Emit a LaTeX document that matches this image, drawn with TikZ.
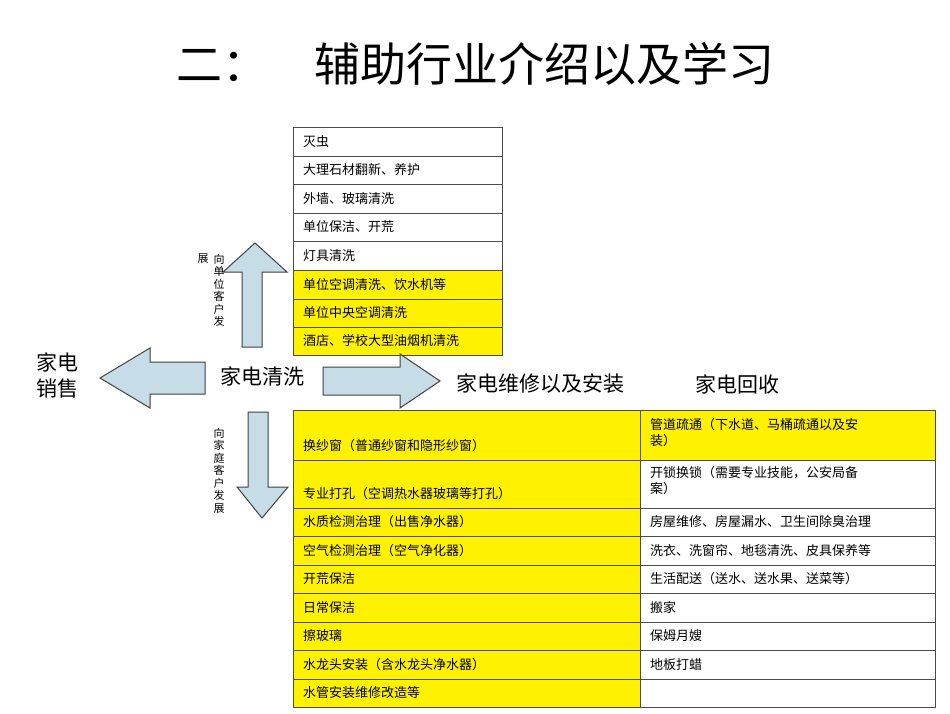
\documentclass[tikz,border=0pt]{standalone}
\usepackage{fontspec}
\newfontfamily\cjk{Noto Sans CJK SC}
\begin{document}
\begin{tikzpicture}[x=1pt,y=-1pt,
  cell/.style={draw=black!70,line width=0.5pt},
  ylw/.style={cell,fill=yellow},
  txt/.style={anchor=west,inner sep=0,font=\cjk\fontsize{13}{16}\selectfont},
  arr/.style={draw=black!75,fill=cyan!20!teal!25,line width=1pt},
  big/.style={inner sep=0,font=\cjk\fontsize{21}{26}\selectfont}]
\useasboundingbox (0,0) rectangle (950,713);
\node[inner sep=0,font=\cjk\fontsize{46}{50}\selectfont] (title) at (475,64) {二：\quad 辅助行业介绍以及学习};
% top table
\foreach \a/\b/\t [count=\i] in {127/156/灭虫,156/184/大理石材翻新、养护,184/213/外墙、玻璃清洗,213/241/单位保洁、开荒,241/270/灯具清洗}
  {\draw[cell] (293,\a) rectangle (502,\b); \node[txt] (t\i) at (303,{(\a+\b)/2}) {\t};}
\foreach \a/\b/\t [count=\i from 6] in {270/299/单位空调清洗、饮水机等,299/327/单位中央空调清洗,327/355/酒店、学校大型油烟机清洗}
  {\draw[ylw] (293,\a) rectangle (502,\b); \node[txt] (t\i) at (303,{(\a+\b)/2}) {\t};}
% bottom table
\foreach \a/\b/\l/\r [count=\i] in {
 410/460/换纱窗（普通纱窗和隐形纱窗）/{},
 460/508/专业打孔（空调热水器玻璃等打孔）/{},
 508/536/水质检测治理（出售净水器）/房屋维修、房屋漏水、卫生间除臭治理,
 536/565/空气检测治理（空气净化器）/洗衣、洗窗帘、地毯清洗、皮具保养等,
 565/593/开荒保洁/生活配送（送水、送水果、送菜等）,
 593/622/日常保洁/搬家,
 622/650/擦玻璃/保姆月嫂,
 650/679/水龙头安装（含水龙头净水器）/地板打蜡,
 679/707/水管安装维修改造等/{}}
 {\draw[ylw] (293,\a) rectangle (640,\b);
  \draw[cell] (640,\a) rectangle (935,\b);
  \node[txt] (l\i) at (303,{\b-14}) {\l};
  \node[txt] (r\i) at (650,{(\a+\b)/2}) {\r};}
\draw[ylw] (640,410) rectangle (935,460);
\node[txt,align=left,anchor=north west] (r1) at (650,418) {管道疏通（下水道、马桶疏通以及安\\装）};
\node[txt,align=left,anchor=north west] (r2) at (650,466) {开锁换锁（需要专业技能，公安局备\\案）};
% arrows
\draw[arr] (242,347) -- (242,272) -- (223,272) -- (255,243) -- (287,272) -- (262,272) -- (262,347) -- cycle;
\draw[arr] (248,412) -- (248,487) -- (237,487) -- (262,518) -- (288,487) -- (268,487) -- (268,412) -- cycle;
\draw[arr] (205,362) -- (150,362) -- (150,348) -- (100,378) -- (150,408) -- (150,394) -- (205,394) -- cycle;
\draw[arr] (323,367) -- (400,367) -- (400,354) -- (440,381) -- (400,408) -- (400,395) -- (323,395) -- cycle;
% labels
\node[big] (clean) at (262,376) {家电清洗};
\node[big,align=center] (sale) at (57,375) {家电\\销售};
\node[big] (repair) at (540,384) {家电维修以及安装};
\node[big] (recycle) at (737,384) {家电回收};
\node[inner sep=0,align=center,font=\cjk\fontsize{11}{12.5}\selectfont,anchor=north] (up) at (219,254) {向\\单\\位\\客\\户\\发};
\node[inner sep=0,font=\cjk\fontsize{11}{12.5}\selectfont,anchor=north] (up2) at (203,254) {展};
\node[inner sep=0,align=center,font=\cjk\fontsize{11}{12.5}\selectfont,anchor=north] (down) at (219,428) {向\\家\\庭\\客\\户\\发\\展};
\end{tikzpicture}
\end{document}
